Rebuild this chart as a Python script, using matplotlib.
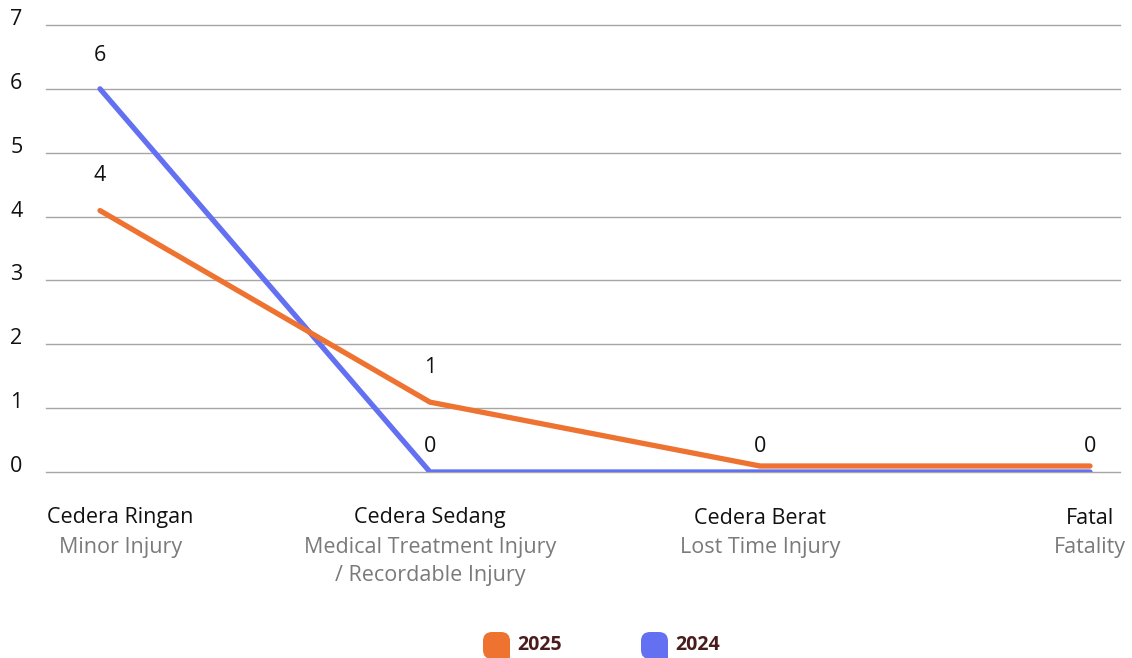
import matplotlib
matplotlib.use("Agg")
import matplotlib.pyplot as plt
import matplotlib.transforms as mtransforms
from matplotlib.patches import FancyBboxPatch, Rectangle

# Incident categories (Indonesian name / English name)
categories_id = ["Cedera Ringan", "Cedera Sedang", "Cedera Berat", "Fatal"]
categories_en = ["Minor Injury", "Medical Treatment Injury\n/ Recordable Injury",
                 "Lost Time Injury", "Fatality"]

# Incident counts per year
values_2025 = [4, 1, 0, 0]
values_2024 = [6, 0, 0, 0]

# Which points carry a value label
show_2025 = [True, True, True, True]
show_2024 = [True, True, False, False]

y_ticks = [0, 1, 2, 3, 4, 5, 6, 7]

C_2025 = "#EE7230"
C_2024 = "#6470F2"
GRID = "#A6A6A6"
GREY_TXT = "#7A7A7A"
LEGEND_TXT = "#4A1C1C"
FS = 15.5

plt.rcParams["font.family"] = ["Open Sans", "DejaVu Sans"]

W, H = 1132, 658
fig = plt.figure(figsize=(W / 100, H / 100), dpi=100)
ax = fig.add_axes([46 / W, (H - 472) / H, (1120 - 46) / W, (472 - 25) / H])

x = list(range(len(categories_id)))
ax.set_xlim(-54 / 330, 3 + 30 / 330)
ax.set_ylim(0, 7)

ax.set_yticks(y_ticks)
ax.grid(axis="y", color=GRID, linewidth=1.0)
for gl in ax.get_ygridlines():
    gl.set_clip_on(False)
ax.set_axisbelow(True)
for s in ax.spines.values():
    s.set_visible(False)
ax.set_xticks([])
ax.tick_params(axis="y", length=0, pad=17, labelsize=FS, labelcolor="#111111")
lift = mtransforms.ScaledTranslation(0, 8 / 100, fig.dpi_scale_trans)
for t in ax.get_yticklabels():
    t.set_transform(t.get_transform() + lift)

# Lines; the 2025 series is nudged up slightly so coincident segments stay visible
nudge = mtransforms.ScaledTranslation(0, 6 / 100, fig.dpi_scale_trans)
ax.plot(x, values_2024, color=C_2024, linewidth=3.8, solid_capstyle="round",
        solid_joinstyle="round", zorder=3)
ax.plot(x, values_2025, color=C_2025, linewidth=3.8, solid_capstyle="round",
        solid_joinstyle="round", zorder=4, transform=ax.transData + nudge)


# Value labels
def label_points(vals, flags, lift_px):
    for xi, v, f, lp in zip(x, vals, flags, lift_px):
        if not f:
            continue
        off = mtransforms.offset_copy(ax.transData, fig=fig, x=0,
                                      y=lp / 100 * 72, units="points")
        ax.text(xi, v, f"{v:g}", transform=off, ha="center", va="center",
                fontsize=FS, color="#111111", zorder=5)


label_points(values_2024, show_2024, [33, 25, 25, 25])
label_points(values_2025, show_2025, [41, 41, 25, 25])

# Category labels under the axis
tr = mtransforms.blended_transform_factory(ax.transData, fig.transFigure)
fig.canvas.draw()
r = fig.canvas.get_renderer()
for i, (cid, cen) in enumerate(zip(categories_id, categories_en)):
    lines = [(cid, "#111111")] + [(s, GREY_TXT) for s in cen.split("\n")]
    objs = []
    for k, (s, col) in enumerate(lines):
        objs.append(ax.text(x[i], (H - 518 - 29 * k) / H, s, transform=tr,
                            ha="center", va="center", fontsize=FS, color=col,
                            clip_on=False))
    if i == 0:
        # keep the first block inside the figure, centred on its widest line
        widths = [o.get_window_extent(r).width for o in objs]
        cx = 47 + max(widths) / 2
        for o in objs:
            o.set_transform(fig.transFigure)
            o.set_x(cx / W)


# Legend
def legend_item(x0, color, text):
    sz = 27
    y0 = H - 632 - sz
    box = FancyBboxPatch((x0 / W, y0 / H), sz / W, sz / H,
                         boxstyle="round,pad=0,rounding_size=0.008",
                         transform=fig.transFigure, facecolor=color,
                         edgecolor="none", mutation_aspect=W / H)
    fig.patches.append(box)
    fig.patches.append(Rectangle(((x0 + sz / 2) / W, y0 / H), sz / 2 / W, sz / 2 / H,
                                 transform=fig.transFigure, facecolor=color,
                                 edgecolor="none"))
    fig.text((x0 + sz + 7) / W, (H - 645) / H, text, ha="left", va="center",
             fontsize=14, fontweight="bold", color=LEGEND_TXT)


legend_item(483, C_2025, "2025")
legend_item(641, C_2024, "2024")

fig.savefig("out.png", dpi=100, facecolor="white")
